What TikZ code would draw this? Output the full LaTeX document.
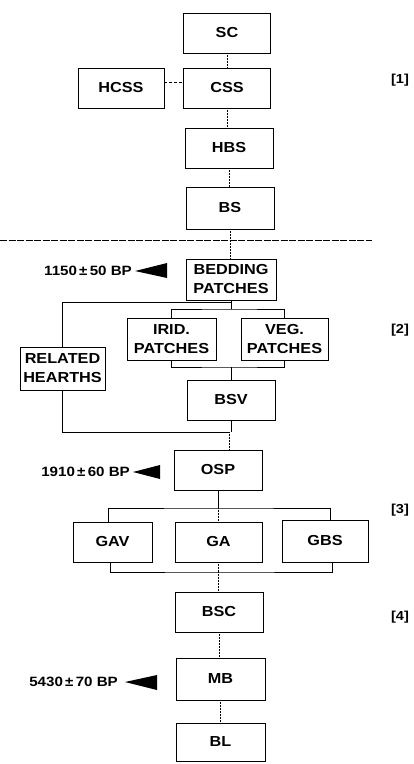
\documentclass[tikz,border=0pt]{standalone}
\usepackage{fontspec}
\setmainfont{Liberation Sans}
\newfontfamily\boxfont[FakeStretch=1.12]{Liberation Sans}
\begin{document}
\begin{tikzpicture}[x=1pt,y=-1pt,
  box/.style={draw, line width=0.9pt, inner sep=1pt, align=center,
    font=\boxfont\bfseries\fontsize{14.5}{19}\selectfont},
  conn/.style={line width=0.5pt},
  dotc/.style={line width=0.5pt, densely dotted},
  datelab/.style={font=\boxfont\bfseries\fontsize{13.5}{15}\selectfont, inner sep=0pt},
  tag/.style={font=\boxfont\bfseries\fontsize{13}{15}\selectfont, inner sep=0pt}]
\useasboundingbox (0,0) rectangle (413,764);

% boxes
\node[box, minimum width=87pt, minimum height=40pt] (SC)   at (227,33)  {SC};
\node[box, minimum width=86pt, minimum height=40pt] (HCSS) at (121,88)  {HCSS};
\node[box, minimum width=87pt, minimum height=40pt] (CSS)  at (227,88)  {CSS};
\node[box, minimum width=88pt, minimum height=40pt] (HBS)  at (229,148) {HBS};
\node[box, minimum width=88pt, minimum height=42pt] (BS)   at (230,208) {BS};
\node[box, minimum width=90pt, minimum height=41pt] (BED)  at (231,279.5) {BEDDING\\PATCHES};
\node[box, minimum width=89pt, minimum height=42pt] (IRID) at (171.5,339) {IRID.\\PATCHES};
\node[box, minimum width=87pt, minimum height=42pt] (VEG)  at (284.5,339) {VEG.\\PATCHES};
\node[box, minimum width=85pt, minimum height=43pt] (RH)   at (62.5,368.5) {RELATED\\HEARTHS};
\node[box, minimum width=88pt, minimum height=40pt] (BSV)  at (231,400) {BSV};
\node[box, minimum width=88pt, minimum height=40pt] (OSP)  at (218,470) {OSP};
\node[box, minimum width=79pt, minimum height=40pt] (GAV)  at (112.5,542) {GAV};
\node[box, minimum width=87pt, minimum height=40pt] (GA)   at (218.5,542) {GA};
\node[box, minimum width=86pt, minimum height=42pt] (GBS)  at (325,541) {GBS};
\node[box, minimum width=88pt, minimum height=40pt] (BSC)  at (219,612) {BSC};
\node[box, minimum width=89pt, minimum height=42pt] (MB)   at (220.5,679) {MB};
\node[box, minimum width=89pt, minimum height=38pt] (BL)   at (220.5,742) {BL};

% separator
\coordinate (sepL) at (0,240);
\coordinate (sepR) at (372,240);
\draw[line width=0.5pt, dash pattern=on 7pt off 1.5pt] (sepL) -- (sepR);

% junction points
\coordinate (b1) at (231,302);
\coordinate (b2) at (231,309);
\coordinate (b3) at (231,367);
\coordinate (b4) at (229,432);
\coordinate (b5) at (218,508);
\coordinate (b6) at (218,572);

% connectors
\draw[dotc] (SC.south) -- (CSS.north);
\draw[conn, densely dashed] ([yshift=6pt]HCSS.east) -- ([yshift=6pt]CSS.west);
\draw[dotc] (CSS.south) -- (CSS.south |- HBS.north);
\draw[dotc] (HBS.south) -- (HBS.south |- BS.north);
\draw[dotc] (BS.south) -- (BS.south |- BED.north);
\draw[conn] (BED.south) -- (b1) -| (RH.north);
\draw[conn] (b1) -- (b2);
\draw[conn] (IRID.north) |- (b2) -| (VEG.north);
\draw[conn] (IRID.south) |- (b3) -| (VEG.south);
\draw[conn] (b3) -- (b3 |- BSV.north);
\draw[conn] (RH.south) |- (b4);
\draw[conn] (BSV.south) -- (BSV.south |- b4);
\draw[dotc] (b4) -- (b4 |- OSP.north);
\draw[conn] (OSP.south) -- (b5);
\draw[conn] ([xshift=-4pt]GAV.north) |- (b5) -| ([xshift=5pt]GBS.north);
\draw[dotc] (b5) -- (b5 |- GA.north);
\draw[conn] ([xshift=-2pt]GAV.south) |- (b6) -| ([xshift=7pt]GBS.south);
\draw[dotc] (GA.south) -- (GA.south |- b6);
\draw[dotc] (b6) -- (b6 |- BSC.north);
\draw[dotc] (BSC.south) -- (BSC.south |- MB.north);
\draw[dotc] (MB.south) -- (MB.south |- BL.north);

% dates with pointers
\node[datelab, anchor=east] (d1) at (132,271) {1150\,±\,50 BP};
\fill (135,271) -- (167,263) -- (167,278) -- cycle;
\node[datelab, anchor=east] (d2) at (130,472) {1910\,±\,60 BP};
\fill (133,472) -- (160,465) -- (160,479) -- cycle;
\node[datelab, anchor=east] (d3) at (118,682) {5430\,±\,70 BP};
\fill (125,682) -- (157,675) -- (157,690) -- cycle;

% section tags
\node[tag] (t1) at (400,80)  {[1]};
\node[tag] (t2) at (400,330) {[2]};
\node[tag] (t3) at (400,510) {[3]};
\node[tag] (t4) at (400,617) {[4]};
\end{tikzpicture}
\end{document}
